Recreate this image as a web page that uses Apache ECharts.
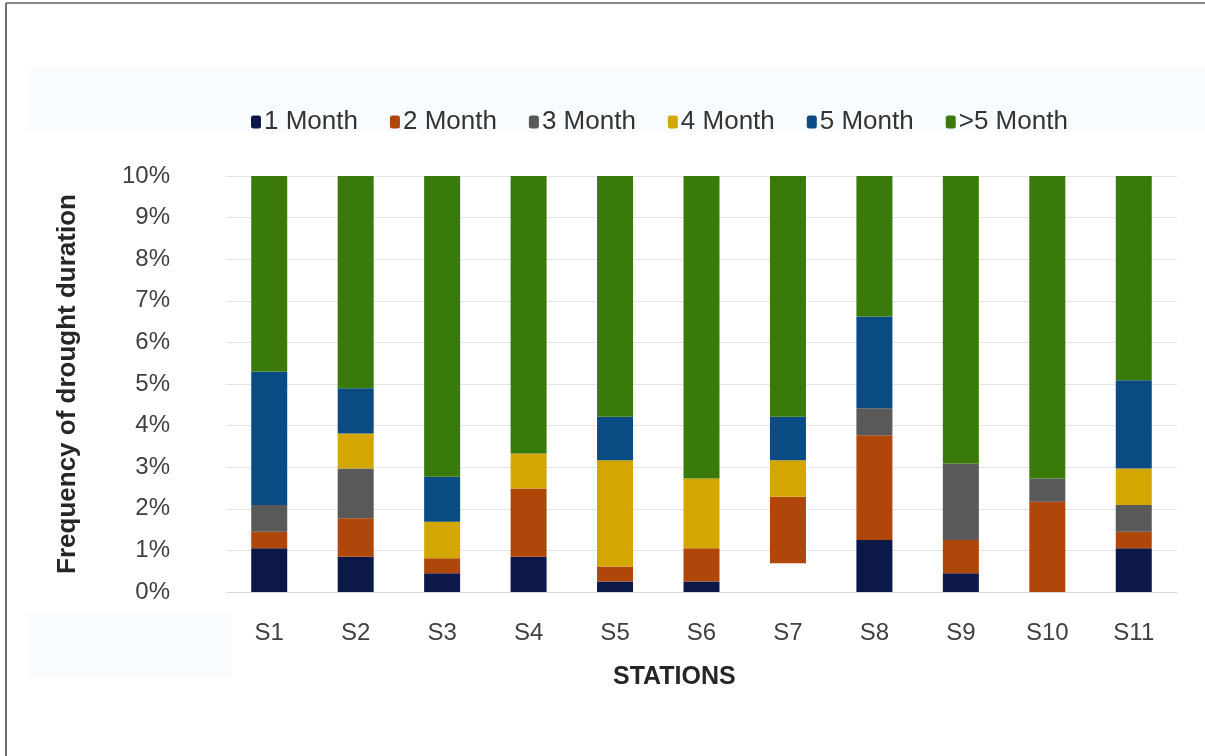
<!DOCTYPE html>
<html>
<head>
<meta charset="utf-8">
<style>
  html, body { margin: 0; padding: 0; background: #ffffff; }
  #chart { width: 1205px; height: 756px; }
</style>
<script src="https://cdn.jsdelivr.net/npm/echarts@6/dist/echarts.min.js"></script>
</head>
<body>
<div id="chart"></div>
<script>
// Stations along the x axis
const stations = ['S1', 'S2', 'S3', 'S4', 'S5', 'S6', 'S7', 'S8', 'S9', 'S10', 'S11'];

// Frequency of drought duration (%) per class, stacked per station
const month1   = [1.05, 0.85, 0.45, 0.85, 0.25, 0.25, 0.69, 1.25, 0.45, 0.00, 1.05];
const month2   = [0.40, 0.92, 0.36, 1.64, 0.36, 0.80, 1.60, 2.52, 0.80, 2.17, 0.40];
const month3   = [0.64, 1.20, 0.00, 0.00, 0.00, 0.00, 0.00, 0.65, 1.84, 0.56, 0.64];
const month4   = [0.00, 0.84, 0.88, 0.84, 2.56, 1.68, 0.88, 0.00, 0.00, 0.00, 0.88];
const month5   = [3.21, 1.09, 1.08, 0.00, 1.04, 0.00, 1.04, 2.20, 0.00, 0.00, 2.12];
const monthGt5 = [4.70, 5.10, 7.23, 6.67, 5.79, 7.27, 5.79, 3.38, 6.91, 7.27, 4.94];

// Y axis ticks 0%..10%
const yTicks = [0, 1, 2, 3, 4, 5, 6, 7, 8, 9, 10];

const seriesNames = ['1 Month', '2 Month', '3 Month', '4 Month', '5 Month', '>5 Month'];
const seriesData = [month1, month2, month3, month4, month5, monthGt5];
const seriesColors = ['#0b1848', '#b0470a', '#595959', '#d4a600', '#0b4b83', '#3a7a0b'];

const FONT = '"Liberation Sans", Arial, sans-serif';

const chart = echarts.init(document.getElementById('chart'), null, { renderer: 'canvas' });

const series = seriesNames.map((name, i) => ({
  name: name,
  type: 'bar',
  stack: 'total',
  barWidth: 36,
  itemStyle: { color: seriesColors[i] },
  emphasis: { disabled: true },
  data: seriesData[i].map((v, j) => {
    // S7 has a blank base segment
    if (i === 0 && stations[j] === 'S7') {
      return { value: v, itemStyle: { color: '#ffffff' } };
    }
    return v;
  })
}));

chart.setOption({
  animation: false,
  backgroundColor: '#ffffff',
  graphic: [
    { type: 'rect', z: -10, shape: { x: 27, y: 67, width: 1178, height: 65 }, style: { fill: '#f9fcfe' } },
    { type: 'rect', z: -10, shape: { x: 27, y: 612, width: 205, height: 66 }, style: { fill: '#f9fcfe' } },
    { type: 'line', shape: { x1: 6, y1: 3, x2: 1205, y2: 3 }, style: { stroke: '#8a8a8a', lineWidth: 2 } },
    { type: 'line', shape: { x1: 6, y1: 3, x2: 6, y2: 756 }, style: { stroke: '#6e6e6e', lineWidth: 2 } },
    {
      type: 'text', left: 613, top: 665,
      style: { text: 'STATIONS', font: 'bold 25px ' + FONT, fill: '#262626' }
    }
  ],
  legend: {
    data: seriesNames,
    left: 246,
    top: 104,
    itemWidth: 10,
    itemHeight: 13,
    itemGap: 32,
    icon: 'roundRect',
    textStyle: { fontFamily: FONT, fontSize: 26, color: '#333333', padding: [0, 0, 0, -2] }
  },
  grid: { left: 226, right: 28, top: 176, bottom: 164 },
  xAxis: {
    type: 'category',
    data: stations,
    axisLine: { show: true, lineStyle: { color: '#d9d9d9', width: 1 } },
    axisTick: { show: false },
    axisLabel: { fontFamily: FONT, fontSize: 24, color: '#404040', margin: 29 }
  },
  yAxis: {
    type: 'value',
    min: 0,
    max: 10,
    interval: 1,
    name: 'Frequency of drought duration',
    nameLocation: 'middle',
    nameGap: 145,
    nameTextStyle: { fontFamily: FONT, fontSize: 26, fontWeight: 'bold', color: '#262626' },
    axisLine: { show: false },
    axisTick: { show: false },
    splitLine: { lineStyle: { color: '#e3e3e3', width: 1 } },
    axisLabel: {
      fontFamily: FONT, fontSize: 24, color: '#404040', margin: 56,
      formatter: v => (yTicks.indexOf(v) >= 0 ? v + '%' : '')
    }
  },
  series: series
});
</script>
</body>
</html>
